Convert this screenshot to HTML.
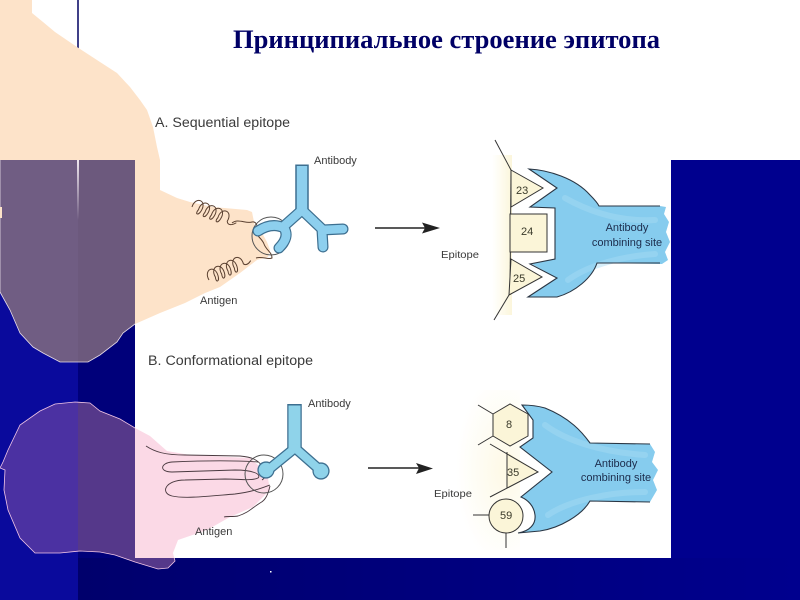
<!DOCTYPE html>
<html><head><meta charset="utf-8"><style>
html,body{margin:0;padding:0;background:#00008e;}
svg{display:block;}
</style></head><body>
<svg width="800" height="600" viewBox="0 0 800 600" xmlns="http://www.w3.org/2000/svg">
<defs>
<linearGradient id="bot" x1="0" x2="1"><stop offset="0" stop-color="#00006c"/><stop offset="1" stop-color="#00008e"/></linearGradient>
<clipPath id="cl"><rect x="0" y="160" width="78" height="440"/></clipPath>
<clipPath id="cr"><rect x="78" y="160" width="57" height="440"/><rect x="78" y="558" width="722" height="42"/></clipPath>
<linearGradient id="yel" x1="0" x2="1"><stop offset="0" stop-color="#fbf1c0" stop-opacity="0"/><stop offset="1" stop-color="#f8eebd" stop-opacity="0.55"/></linearGradient>
<radialGradient id="yel2" cx="0.8" cy="0.5" r="0.6"><stop offset="0" stop-color="#fdf8e0" stop-opacity="0.8"/><stop offset="1" stop-color="#fdf8e0" stop-opacity="0"/></radialGradient>
<linearGradient id="vl" x1="0" y1="0" x2="0" y2="1"><stop offset="0" stop-color="#f0e8f0"/><stop offset="1" stop-color="#f0e8f0" stop-opacity="0"/></linearGradient>
</defs>

<!-- backgrounds -->
<rect width="800" height="600" fill="#00008e"/>
<rect x="0" y="160" width="78" height="440" fill="#0a0a9c"/>
<rect x="78" y="160" width="57" height="440" fill="#00007a"/>
<rect x="78" y="558" width="722" height="42" fill="url(#bot)"/>
<rect x="0" y="0" width="800" height="160" fill="#ffffff"/>
<rect x="135" y="160" width="536" height="398" fill="#ffffff"/>
<line x1="78" y1="0" x2="78" y2="160" stroke="#000060" stroke-width="1.5"/>

<!-- peach shape -->
<path d="M0,0 L32,0 L32,13 L43,22 L55,32 L77,47 L100,62 L117,73 L130,87 L140,100 L147,110 L153,127 L157,147 L160,160 L160,190 L177,198 L190,202 L213,207 L247,210 L252,212 L255,227 L262,233 L267,242 L270,250 L268,257 L257,260 L240,273 L220,287 L205,293 L185,303 L160,313 L135,324 L123,333 L117,342 L100,355 L88,362 L60,362 L43,353 L33,347 L20,333 L10,310 L0,292 Z" fill="#fde3c9" stroke-linejoin="round"/>
<path clip-path="url(#cl)" d="M0,0 L32,0 L32,13 L43,22 L55,32 L77,47 L100,62 L117,73 L130,87 L140,100 L147,110 L153,127 L157,147 L160,160 L160,190 L177,198 L190,202 L213,207 L247,210 L252,212 L255,227 L262,233 L267,242 L270,250 L268,257 L257,260 L240,273 L220,287 L205,293 L185,303 L160,313 L135,324 L123,333 L117,342 L100,355 L88,362 L60,362 L43,353 L33,347 L20,333 L10,310 L0,292 Z" fill="#705d83" stroke="#e8dde8" stroke-width="0.8"/>
<path clip-path="url(#cr)" d="M0,0 L32,0 L32,13 L43,22 L55,32 L77,47 L100,62 L117,73 L130,87 L140,100 L147,110 L153,127 L157,147 L160,160 L160,190 L177,198 L190,202 L213,207 L247,210 L252,212 L255,227 L262,233 L267,242 L270,250 L268,257 L257,260 L240,273 L220,287 L205,293 L185,303 L160,313 L135,324 L123,333 L117,342 L100,355 L88,362 L60,362 L43,353 L33,347 L20,333 L10,310 L0,292 Z" fill="#6c597d" stroke="#e8dde8" stroke-width="0.8"/>
<rect x="77" y="160" width="2" height="60" fill="url(#vl)"/>
<rect x="0" y="207" width="2" height="11" fill="#fde3c9"/>

<!-- pink shape -->
<path d="M5,470 L0,468 L3,462 L8,450 L20,425 L40,411 L55,404 L75,402 L90,403 L100,411 L120,419 L135,428 L150,436 L167,451 L190,455 L210,456 L250,458 L267,473 L270,490 L253,507 L230,517 L207,530 L178,540 L173,553 L175,561 L168,568 L158,569 L135,562 L115,555 L100,552 L80,551 L60,553 L35,553 L20,538 L8,510 L4,490 Z" fill="#fbd9e6"/>
<path clip-path="url(#cl)" d="M5,470 L0,468 L3,462 L8,450 L20,425 L40,411 L55,404 L75,402 L90,403 L100,411 L120,419 L135,428 L150,436 L167,451 L190,455 L210,456 L250,458 L267,473 L270,490 L253,507 L230,517 L207,530 L178,540 L173,553 L175,561 L168,568 L158,569 L135,562 L115,555 L100,552 L80,551 L60,553 L35,553 L20,538 L8,510 L4,490 Z" fill="#4b31a2" stroke="#f2c6e6" stroke-width="0.8"/>
<path clip-path="url(#cr)" d="M5,470 L0,468 L3,462 L8,450 L20,425 L40,411 L55,404 L75,402 L90,403 L100,411 L120,419 L135,428 L150,436 L167,451 L190,455 L210,456 L250,458 L267,473 L270,490 L253,507 L230,517 L207,530 L178,540 L173,553 L175,561 L168,568 L158,569 L135,562 L115,555 L100,552 L80,551 L60,553 L35,553 L20,538 L8,510 L4,490 Z" fill="#55388a" stroke="#f2c6e6" stroke-width="0.8"/>
<rect x="270" y="571" width="1.5" height="1.5" fill="#ffffff"/>

<!-- title -->
<text x="233" y="48" font-family="Liberation Serif, serif" font-weight="bold" font-size="26" fill="#000066" textLength="427" lengthAdjust="spacingAndGlyphs">Принципиальное строение эпитопа</text>

<!-- headings -->
<text x="155" y="127" font-family="Liberation Sans, sans-serif" font-size="13.5" fill="#3a3a3a" textLength="135" lengthAdjust="spacingAndGlyphs">A. Sequential epitope</text>
<text x="148" y="365" font-family="Liberation Sans, sans-serif" font-size="13.5" fill="#3a3a3a" textLength="165" lengthAdjust="spacingAndGlyphs">B. Conformational epitope</text>

<!-- yellow tints -->
<rect x="492" y="155" width="20" height="160" fill="url(#yel)"/>
<rect x="440" y="390" width="80" height="160" fill="url(#yel2)"/>

<!-- coils A -->
<g fill="none" stroke="#5a4030" stroke-width="1">
<path transform="translate(192,207) rotate(22)" d="M0,0 c-1,-12 12,-12 10,0 c-1,6 -5,6 -3,0 c-1,-12 12,-12 10,0 c-1,6 -5,6 -3,0 c-1,-12 12,-12 10,0 c-1,6 -5,6 -3,0 c-1,-12 12,-12 10,0 c-1,6 -5,6 -3,0 c-1,-12 12,-12 10,0 c2,4 6,2 9,-2"/>
<path transform="translate(209,280) rotate(-25)" d="M0,0 c-1,-12 12,-12 10,0 c-1,6 -5,6 -3,0 c-1,-12 12,-12 10,0 c-1,6 -5,6 -3,0 c-1,-12 12,-12 10,0 c-1,6 -5,6 -3,0 c-1,-12 12,-12 10,0 c-1,6 -5,6 -3,0 c-1,-12 12,-12 10,0 c2,3 5,2 8,0"/>
<path d="M232,223 C238,218 246,224 252,222 C256,221 258,226 257,230 C255,236 262,238 264,244 C266,250 272,252 272,258 C268,260 262,256 256,258"/>
</g>
<circle cx="271" cy="236" r="19" fill="none" stroke="#555" stroke-width="1"/>

<!-- antibody A -->
<g fill="none" stroke-linejoin="round">
<path d="M302,164.5 L302,210" stroke="#3d6f90" stroke-width="13.5"/>
<g stroke="#3d6f90" stroke-width="11" stroke-linecap="round">
<path d="M302,210 L284,226"/>
<path d="M258,231 Q272,222 284,228 Q290,237 279,248"/>
<path d="M302,210 L322,229"/>
<path d="M343,229 L322,230 L323,247"/>
</g>
<path d="M302,166 L302,210" stroke="#8dcfee" stroke-width="10.5"/>
<g stroke="#8dcfee" stroke-width="8.6" stroke-linecap="round">
<path d="M302,210 L284,226"/>
<path d="M258,231 Q272,222 284,228 Q290,237 279,248"/>
<path d="M302,210 L322,229"/>
<path d="M343,229 L322,230 L323,247"/>
</g>
</g>

<g font-family="Liberation Sans, sans-serif" font-size="11" fill="#3a3a3a">
<text x="314" y="164">Antibody</text>
<text x="200" y="304">Antigen</text>
<text x="308" y="407">Antibody</text>
<text x="195" y="535">Antigen</text>
<text x="441" y="258" font-size="10.5" textLength="38" lengthAdjust="spacingAndGlyphs">Epitope</text>
<text x="434" y="497" font-size="10.5" textLength="38" lengthAdjust="spacingAndGlyphs">Epitope</text>
</g>

<!-- arrows -->
<line x1="375" y1="228" x2="426" y2="228" stroke="#222" stroke-width="1.6"/>
<polygon points="440,228 422,222.5 425,228 422,233.5" fill="#222"/>
<line x1="368" y1="468" x2="420" y2="468" stroke="#222" stroke-width="1.6"/>
<polygon points="433,468.5 416,463 419,468 416,474" fill="#222"/>

<!-- epitope A -->
<g stroke="#333" stroke-width="1" fill="#fbf5d8">
<line x1="495" y1="140" x2="511" y2="170"/>
<line x1="511" y1="170" x2="510" y2="295"/>
<line x1="509" y1="295" x2="494" y2="320"/>
<polygon points="511,170 543,188 511,207"/>
<rect x="510" y="214" width="37" height="38"/>
<polygon points="511,259 542,277 509,295"/>
</g>

<!-- blue site A -->
<path d="M529,169 C548,170 575,178 590,195 C595,200 598,204 599,206 L660,206 L666,207 L664,214 L669,222 L666,232 L670,242 L665,252 L668,260 L662,264 L597,263 C592,278 575,292 557,297 L528,297 L557,278 L532,264 L555,259 L555,208 L530,207 L557,188 Z" fill="#86ccee"/>
<g fill="none" stroke="#a8dcf3" stroke-width="6" opacity="0.45" stroke-linecap="round">
<path d="M565,198 C590,212 620,222 655,220"/>
<path d="M568,280 C590,264 625,256 655,254"/>
</g>
<path d="M660,206 L599,206 C598,204 595,200 590,195 C575,178 548,170 529,169 L557,188 L530,207 L555,208 L555,259 L530,264 L557,278 L528,297 L557,297 C575,292 592,278 597,263 L660,263" fill="none" stroke="#2a3644" stroke-width="1.1" stroke-linejoin="miter"/>

<g font-family="Liberation Sans, sans-serif" font-size="11" fill="#1c2c4c" text-anchor="middle">
<text x="627" y="231">Antibody</text>
<text x="627" y="246">combining site</text>
</g>
<g font-family="Liberation Sans, sans-serif" font-size="11" fill="#3a3a2a">
<text x="516" y="194">23</text>
<text x="521" y="235">24</text>
<text x="513" y="282">25</text>
</g>

<!-- antigen B loops -->
<g fill="none" stroke="#4a3a40" stroke-width="0.9">
<path d="M146,446 C155,452 165,455 185,455 L240,456 C252,457 258,460 262,466"/>
<path d="M258,462 C230,460 195,461 172,462 C160,463 159,472 172,472 L235,470 C252,470 262,474 258,478 C252,481 240,479 225,479 L185,480 C165,480 160,493 172,496 C185,499 210,496 235,494 C252,492 262,488 270,485"/>
<path d="M270,486 C268,494 266,500 260,503 C252,508 248,513 238,516 C232,517 228,516 224,517"/>
<path d="M262,466 C266,470 268,476 262,480"/>
</g>
<circle cx="264" cy="474" r="19" fill="none" stroke="#555" stroke-width="1"/>

<!-- antibody B -->
<g fill="none" stroke-linejoin="round">
<path d="M294.5,404 L294.5,448" stroke="#3d6f90" stroke-width="14.5"/>
<g stroke="#3d6f90" stroke-width="10.5" stroke-linecap="round">
<path d="M295,448 L268,470"/>
<path d="M295,448 L320,470"/>
</g>
<circle cx="266" cy="470" r="8.6" fill="#3d6f90"/>
<circle cx="321" cy="471" r="8.6" fill="#3d6f90"/>
<path d="M294.5,405.5 L294.5,448" stroke="#8fd3ea" stroke-width="12"/>
<g stroke="#8fd3ea" stroke-width="8" stroke-linecap="round">
<path d="M295,448 L268,470"/>
<path d="M295,448 L320,470"/>
</g>
<circle cx="266" cy="470" r="7.3" fill="#8fd3ea"/>
<circle cx="321" cy="471" r="7.3" fill="#8fd3ea"/>
</g>

<!-- epitope B -->
<g stroke="#333" stroke-width="1" fill="#fbf5d8">
<polygon points="493,414 510,404 528,414 528,436 510,446 493,436"/>
<line x1="478" y1="405" x2="493" y2="414"/>
<line x1="478" y1="445" x2="493" y2="436"/>
<polygon points="507,452 537,472 507,488" fill="#fbf5d8" stroke="none"/>
<polyline points="490,444 538,472 490,497" fill="none"/>
<line x1="507" y1="452" x2="507" y2="488"/>
<circle cx="506" cy="516" r="17"/>
<line x1="473" y1="515" x2="489" y2="515"/>
<line x1="506" y1="533" x2="506" y2="548"/>
</g>

<!-- blue site B -->
<path d="M522,405 C530,405 538,406 545,408 C570,418 582,432 590,443 L650,444 L655,452 L652,462 L658,470 L653,480 L657,490 L650,502 L590,501 C582,515 560,528 540,531 L518,533 C530,531 536,524 535,515 C534,506 528,500 521,497 L552,472 L520,447 L533,438 L533,420 Z" fill="#86ccee"/>
<g fill="none" stroke="#a8dcf3" stroke-width="6" opacity="0.45" stroke-linecap="round">
<path d="M545,425 C565,440 600,452 645,455"/>
<path d="M548,515 C570,500 610,492 645,492"/>
</g>
<path d="M650,444 L590,443 C582,432 570,418 545,408 C538,406 530,405 522,405 L533,420 L533,438 L520,447 L552,472 L521,497 C528,500 534,506 535,515 C536,524 530,531 518,533 L540,531 C560,528 582,515 590,501 L650,502" fill="none" stroke="#2a3644" stroke-width="1.1"/>

<g font-family="Liberation Sans, sans-serif" font-size="11" fill="#1c2c4c" text-anchor="middle">
<text x="616" y="467">Antibody</text>
<text x="616" y="481">combining site</text>
</g>
<g font-family="Liberation Sans, sans-serif" font-size="11" fill="#3a3a2a">
<text x="507" y="476">35</text>
<text x="506" y="428">8</text>
<text x="500" y="519">59</text>
</g>
</svg>
</body></html>
